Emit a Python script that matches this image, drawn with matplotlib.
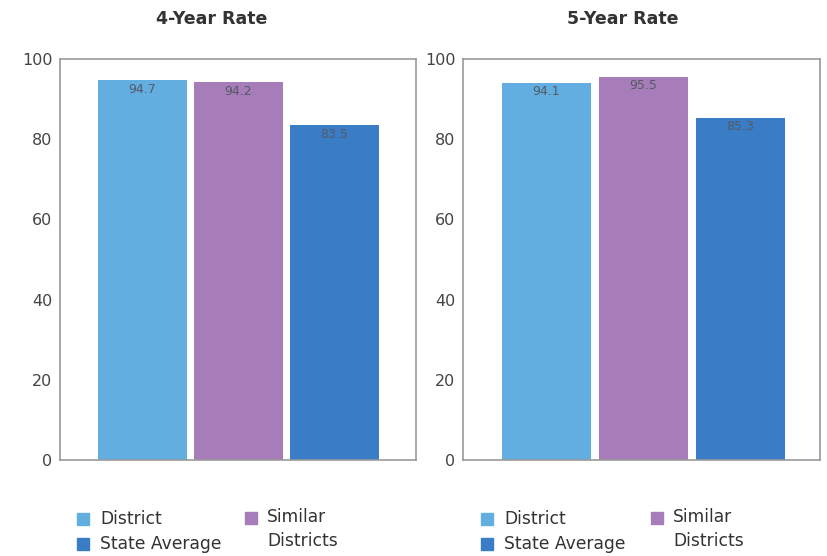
import matplotlib.pyplot as plt
from matplotlib.patches import Rectangle

# data
groups = ["District", "Similar Districts", "State Average"]
rate4 = [94.7, 94.2, 83.5]
rate5 = [94.1, 95.5, 85.3]
titles = ["4-Year Rate", "5-Year Rate"]
colors = ["#63aee0", "#a77db9", "#3a7cc5"]
yticks = [0, 20, 40, 60, 80, 100]

fig = plt.figure(figsize=(8.27, 5.56), dpi=100)
W, H = 827, 556

def px(x0, y0, x1, y1):
    return [x0 / W, 1 - y1 / H, (x1 - x0) / W, (y1 - y0) / H]

axes = [fig.add_axes(px(60, 59, 416, 460)), fig.add_axes(px(463, 59, 820, 460))]
xlims = [(-0.86, 2.85), (-0.86, 2.82)]
title_x = [0.427, 0.448]

for ax, vals, title, xl, tx in zip(axes, [rate4, rate5], titles, xlims, title_x):
    ax.bar(range(3), vals, width=0.92, color=colors, edgecolor="none")
    for i, v in enumerate(vals):
        ax.text(i, v - 0.6, f"{v}", ha="center", va="top", fontsize=9, color="#555a66")
    ax.set_xlim(*xl)
    ax.set_ylim(0, 100)
    ax.set_xticks([])
    ax.set_yticks(yticks)
    ax.tick_params(axis="y", length=0, pad=5.5, labelsize=11.5, labelcolor="#444444")
    for s in ax.spines.values():
        s.set_color("#999999")
        s.set_linewidth(1.2)
    ax.set_title(title, fontsize=12.5, fontweight="bold", color="#333333", x=tx, pad=25)

# legends drawn by hand, as in the original layout
def legend(x_sq, x_sq2):
    items = [(x_sq, 519, colors[0], "District"), (x_sq, 544, colors[2], "State Average")]
    for x, y, c, lab in items:
        fig.add_artist(Rectangle((x / W, 1 - (y + 6) / H), 12 / W, 12 / H,
                                 transform=fig.transFigure, color=c))
        fig.text((x + 23) / W, 1 - y / H, lab, fontsize=12.3, color="#333333", va="center")
    fig.add_artist(Rectangle((x_sq2 / W, 1 - (518 + 6) / H), 12 / W, 12 / H,
                             transform=fig.transFigure, color=colors[1]))
    fig.text((x_sq2 + 22) / W, 1 - 517 / H, "Similar", fontsize=12.3, color="#333333", va="center")
    fig.text((x_sq2 + 22) / W, 1 - 541 / H, "Districts", fontsize=12.3, color="#333333", va="center")

legend(77, 245)
legend(481, 651)

fig.savefig("out.png", dpi=100, facecolor="white")
